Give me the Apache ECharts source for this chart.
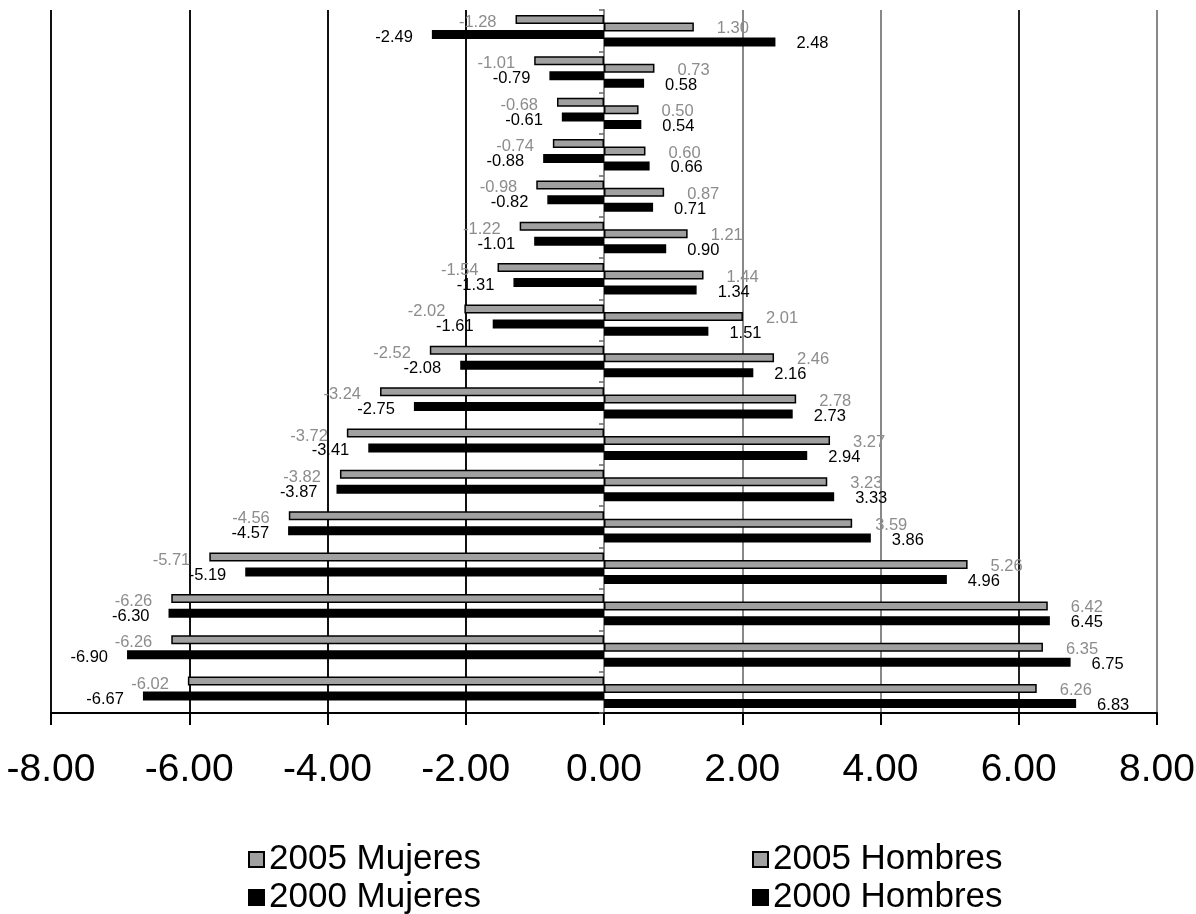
<!DOCTYPE html>
<html><head><meta charset="utf-8">
<script src="https://cdn.jsdelivr.net/npm/echarts@6/dist/echarts.min.js"></script>
<style>html,body{margin:0;padding:0;background:#fff}#c{width:1196px;height:914px}</style>
</head><body><div id="c"></div>
<script>
const categories = ['80+','75-79','70-74','65-69','60-64','55-59','50-54','45-49','40-44','35-39','30-34','25-29','20-24','15-19','10-14','5-9','0-4'];
const mujeres2005 = [-1.28,-1.01,-0.68,-0.74,-0.98,-1.22,-1.54,-2.02,-2.52,-3.24,-3.72,-3.82,-4.56,-5.71,-6.26,-6.26,-6.02];
const mujeres2000 = [-2.49,-0.79,-0.61,-0.88,-0.82,-1.01,-1.31,-1.61,-2.08,-2.75,-3.41,-3.87,-4.57,-5.19,-6.30,-6.90,-6.67];
const hombres2005 = [1.30,0.73,0.50,0.60,0.87,1.21,1.44,2.01,2.46,2.78,3.27,3.23,3.59,5.26,6.42,6.35,6.26];
const hombres2000 = [2.48,0.58,0.54,0.66,0.71,0.90,1.34,1.51,2.16,2.73,2.94,3.33,3.86,4.96,6.45,6.75,6.83];
const seriesNames = ['2005 Mujeres','2005 Hombres','2000 Mujeres','2000 Hombres'];

const GRAY = '#a0a0a0', LGRAY = '#8c8c8c';
const FONT = 'Liberation Sans, Arial, sans-serif';
function bar(name, data, color, labelColor, pos, dist, off) {
  return {
    name, type: 'bar', data, barWidth: 9, barGap: '-17%',
    itemStyle: { color, borderColor: '#000', borderWidth: 1.5 },
    label: { show: true, position: pos, distance: dist, offset: [0, off], color: labelColor,
      fontSize: 16.5, fontFamily: FONT,
      formatter: p => p.value.toFixed(2) },
    emphasis: { disabled: true }
  };
}
function leg(name, left, top) {
  return { data: [name], left, top, itemWidth: 15, itemHeight: 15, icon: 'rect', selectedMode: false,
    padding: 0, textStyle: { fontSize: 35, color: '#000', fontFamily: FONT } };
}
const chart = echarts.init(document.getElementById('c'));
chart.setOption({
  animation: false,
  backgroundColor: '#fff',
  grid: { left: 51, right: 39, top: 10, bottom: 201, containLabel: false, outerBoundsMode: 'none' },
  xAxis: {
    type: 'value', min: -8, max: 8, interval: 2,
    axisLine: { show: true, lineStyle: { color: '#000', width: 2 } },
    axisTick: { show: true, length: 12, lineStyle: { color: '#000', width: 2 } },
    axisLabel: { margin: 38, fontSize: 39, color: '#000', fontFamily: FONT,
      formatter: v => v.toFixed(2) },
    splitLine: { show: true, lineStyle: { width: 2,
      color: ['#111','#111','#111','#111','#888','#888','#888','#222','#888'] } }
  },
  yAxis: {
    type: 'category', data: categories, inverse: true,
    axisLine: { show: true, onZero: true, lineStyle: { color: '#888', width: 2 } },
    axisTick: { show: true, length: 5, lineStyle: { color: '#666', width: 1.5 } },
    axisLabel: { show: false },
    splitLine: { show: false }
  },
  legend: [
    leg(seriesNames[0], 248, 842),
    leg(seriesNames[2], 248, 880),
    leg(seriesNames[1], 752, 842),
    leg(seriesNames[3], 752, 880)
  ],
  series: [
    bar(seriesNames[0], mujeres2005, GRAY, LGRAY, 'left', 19, 3),
    bar(seriesNames[1], hombres2005, GRAY, LGRAY, 'right', 23, 2),
    bar(seriesNames[2], mujeres2000, '#000', '#000', 'left', 19, 3),
    bar(seriesNames[3], hombres2000, '#000', '#000', 'right', 21, 2)
  ]
});
</script></body></html>
